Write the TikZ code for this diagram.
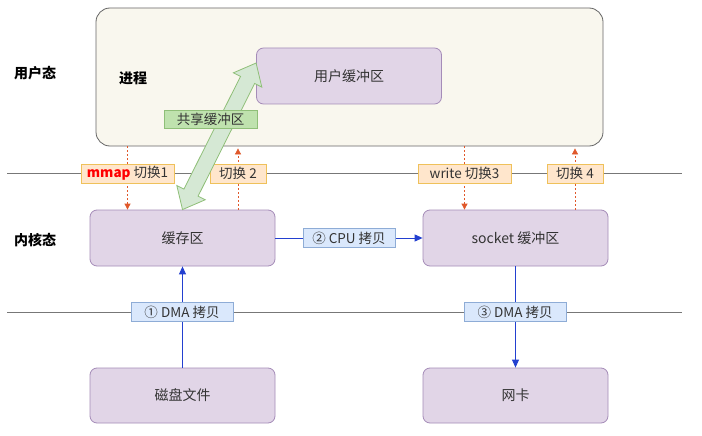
\documentclass[tikz,border=0pt]{standalone}
\usepackage{fontspec}
\setmainfont{Noto Sans CJK SC}
\usetikzlibrary{arrows.meta,positioning,calc,shapes.arrows}
\definecolor{zcInk}{HTML}{333333}
\definecolor{zcRule}{HTML}{777777}
\definecolor{zcProc}{HTML}{F9F7EE}
\definecolor{zcProcEdge}{HTML}{666666}
\definecolor{zcBuf}{HTML}{E1D5E7}
\definecolor{zcBufEdge}{HTML}{A58CB8}
\definecolor{zcSw}{HTML}{FFE6CC}
\definecolor{zcSwEdge}{HTML}{EFC15A}
\definecolor{zcCp}{HTML}{DAE8FC}
\definecolor{zcCpEdge}{HTML}{8EACD6}
\definecolor{zcShare}{HTML}{D5E8D4}
\definecolor{zcShareEdge}{HTML}{8FBF78}
\definecolor{zcShareLbl}{HTML}{BFE2AE}
\definecolor{zcBlue}{HTML}{2340D0}
\definecolor{zcOrange}{HTML}{E0582A}
\tikzset{
  procbox/.style  ={draw=zcProcEdge,fill=zcProc,line width=0.8pt,rounded corners=14pt},
  bufbox/.style   ={draw=zcBufEdge,fill=zcBuf,line width=0.8pt,rounded corners=7pt,
                    minimum width=185,minimum height=56,text=zcInk,font=\fontsize{14}{16}\selectfont},
  tag/.style      ={line width=0.7pt,inner sep=0pt,minimum height=19,text=zcInk,
                    font=\fontsize{13.5}{15}\selectfont},
  swlbl/.style    ={tag,draw=zcSwEdge,fill=zcSw},
  cplbl/.style    ={tag,draw=zcCpEdge,fill=zcCp},
  sharelbl/.style ={tag,draw=zcShareEdge,fill=zcShareLbl,minimum height=18},
  statelbl/.style ={font=\fontsize{14}{16}\selectfont\bfseries,text=black,inner sep=0pt},
  sep/.style      ={zcRule,line width=0.8pt},
  swarrow/.style  ={-{Triangle[length=6pt,width=6pt]},zcOrange,line width=0.8pt,
                    dash pattern=on 2pt off 2pt},
  cparrow/.style  ={-{Triangle[length=8pt,width=7pt]},zcBlue,line width=0.9pt},
  shared/.style   ={double arrow,draw=zcShareEdge,fill=zcShare,line width=0.8pt,
                    inner xsep=0pt,inner ysep=7.5pt,double arrow head extend=8pt,
                    double arrow tip angle=80,minimum height=164},
}

\begin{document}
\begin{tikzpicture}[x=1pt,y=-1pt]
\useasboundingbox[fill=white] (0,0) rectangle (702,436);

% the two borders
\draw[sep] (7,173) -- (682,173);
\draw[sep] (7,312) -- (682,312);

\node[statelbl] (user) at (35,73) {用户态};
\node[statelbl] (kern) at (35,240) {内核态};

% user space
\node[procbox,minimum width=507,minimum height=138] (proc) at (349.5,77) {};
\node[statelbl] (ptext) at (133,78) {进程};
\node[bufbox] (ubuf) at (349,76) {用户缓冲区};

% kernel space and devices
\node[bufbox] (cache)  at (182.5,238) {缓存区};
\node[bufbox] (socket) at (515.5,238) {socket 缓冲区};
\node[bufbox,minimum height=55] (disk) at (182.5,395.5) {磁盘文件};
\node[bufbox,minimum height=55] (nic)  at (515.5,395.5) {网卡};

% context switches
\coordinate (s1) at (127.5,173.5);
\coordinate (s2) at (238,173.5);
\coordinate (s3) at (464.5,173.5);
\coordinate (s4) at (575,173.5);
\draw[swarrow] (proc.south -| s1) -- (cache.north -| s1);
\draw[swarrow] (cache.north -| s2) -- ([yshift=-2]proc.south -| s2);
\draw[swarrow] (proc.south -| s3) -- (socket.north -| s3);
\draw[swarrow] (socket.north -| s4) -- ([yshift=-2]proc.south -| s4);
\node[swlbl,minimum width=93] (sw1) at (s1) {\textcolor{red}{\textbf{mmap}}\ 切换1};
\node[swlbl,minimum width=56] (sw2) at (s2) {切换 2};
\node[swlbl,minimum width=93] (sw3) at (s3) {write 切换3};
\node[swlbl,minimum width=56] (sw4) at (s4) {切换 4};

% copies
\draw[cparrow] (disk.north) -- (cache.south);
\draw[cparrow] (cache.east) -- (socket.west);
\draw[cparrow] (socket.south) -- (nic.north);
\node[cplbl,minimum width=102] (cp1) at (182,312) {① DMA 拷贝};
\node[cplbl,minimum width=92]  (cp2) at (349,238) {② CPU 拷贝};
\node[cplbl,minimum width=102] (cp3) at (515,312) {③ DMA 拷贝};

% shared mapping
\path (cache.north) -- ($(ubuf.west)+(0,-13)$)
  node[shared,midway,sloped] (share) {};
\node[sharelbl,minimum width=93] (sharetxt) at (210.5,119) {共享缓冲区};
\end{tikzpicture}
\end{document}
